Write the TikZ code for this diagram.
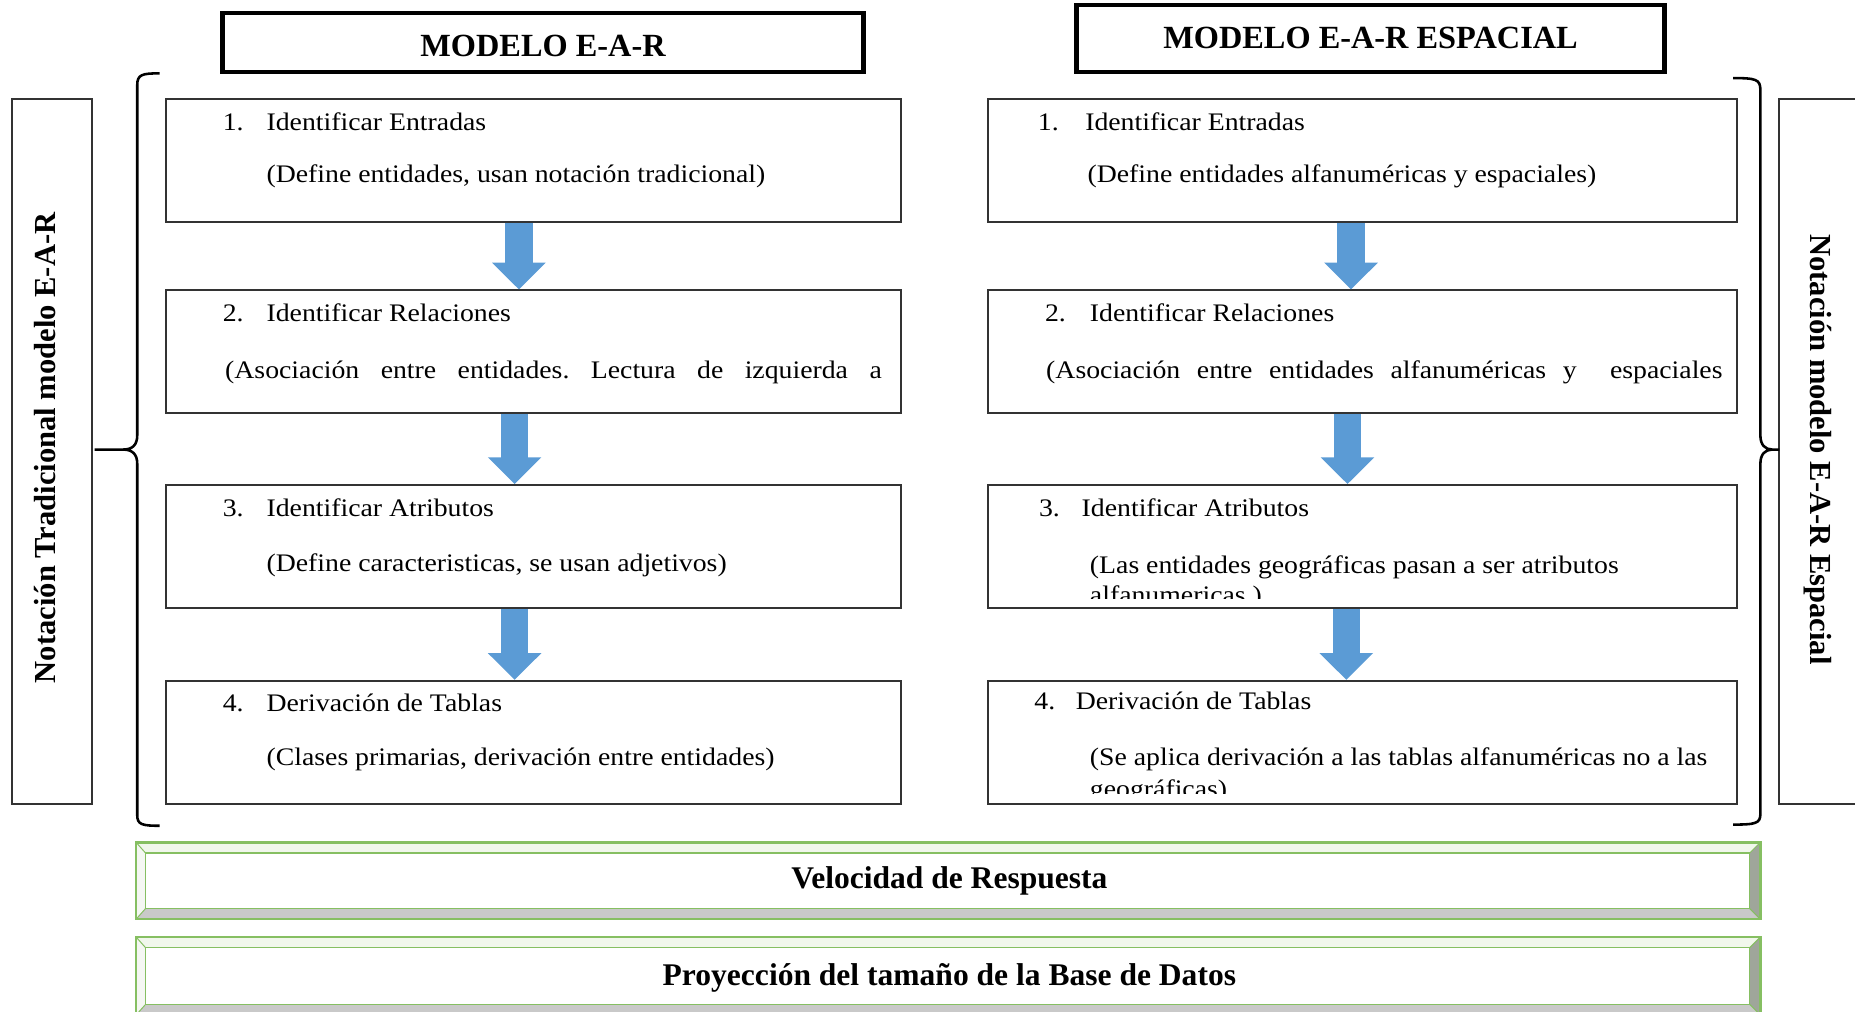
\documentclass[tikz,border=0pt]{standalone}
\usepackage{fontspec}
\setmainfont{Liberation Serif}
\newfontfamily\bodyfont{Liberation Serif}[FakeStretch=1.1]
\usetikzlibrary{arrows.meta,calc}
\definecolor{arrowblue}{HTML}{5B9BD5}
\definecolor{bargreen}{HTML}{86BF62}
\definecolor{bevtop}{HTML}{F1F7EC}
\definecolor{bevleft}{HTML}{F5F7F3}
\definecolor{bevright}{HTML}{9FA69A}
\definecolor{bevbot}{HTML}{C9C9C9}
\newcommand{\bevelbar}[4]{%
  \fill[white] (#1,#2) rectangle (#3,#4);
  \fill[bevtop] (#1,#2) -- (#3,#2) -- (#3-9,#2+9) -- (#1+8,#2+9) -- cycle;
  \fill[bevleft] (#1,#2) -- (#1+8,#2+9) -- (#1+8,#4-9) -- (#1,#4) -- cycle;
  \fill[bevright] (#3,#2) -- (#3,#4) -- (#3-9,#4-9) -- (#3-9,#2+9) -- cycle;
  \fill[bevbot] (#1,#4) -- (#3,#4) -- (#3-9,#4-9) -- (#1+8,#4-9) -- cycle;
  \draw[bargreen, line width=0.7pt] (#1+8,#2+9) rectangle (#3-9,#4-9);
  \draw[bargreen, line width=0.5pt] (#1,#2) -- (#1+8,#2+9) (#3,#2) -- (#3-9,#2+9)
       (#1,#4) -- (#1+8,#4-9) (#3,#4) -- (#3-9,#4-9);
  \draw[bargreen, line width=1.2pt] (#1,#2) rectangle (#3,#4);
}
\begin{document}
\begin{tikzpicture}[x=0.6pt,y=-0.6pt,
  stepboxL/.style={draw=black!80, line width=1pt, fill=white, minimum width=373.2pt, minimum height=62.4pt, inner sep=0pt},
  stepboxR/.style={stepboxL, minimum width=379.8pt},
  titlebox/.style={draw=black, line width=2.2pt, fill=white, inner sep=0pt},
  titletext/.style={anchor=base, inner sep=0pt, font=\bfseries\fontsize{16.4}{18}\selectfont},
  sidebox/.style={draw=black!80, line width=1pt, inner sep=0pt},
  sidetext/.style={inner sep=0pt, font=\bfseries\fontsize{15.5}{17}\selectfont},
  txt/.style={anchor=base west, inner sep=0pt, font=\bodyfont\fontsize{12.8}{15}\selectfont},
  flow/.style={draw=arrowblue, line width=14pt, -{Triangle[width=26.4pt,length=13.6pt]}},
  bracket/.style={draw=black, line width=1.3pt},
  bartext/.style={anchor=base, inner sep=0pt, font=\bfseries\fontsize{16}{18}\selectfont},
]
\useasboundingbox (0,0) rectangle (1568,855);
\clip (0,0) rectangle (1568,855);

% title boxes
\node[titlebox, minimum width=325.2pt, minimum height=30pt] (TL) at (459,36) {};
\node[titletext] (TLt) at (459,48) {MODELO E-A-R};
\node[titlebox, minimum width=298.2pt, minimum height=34.2pt] (TR) at (1158.5,32.5) {};
\node[titletext] (TRt) at (1158.5,41) {MODELO E-A-R ESPACIAL};

% side boxes
\node[sidebox, minimum width=40.8pt, minimum height=357.6pt] (VL) at (44,382) {};
\node[sidetext, rotate=90] (VLt) at (38,378.5) {Notación Tradicional modelo E-A-R};
\node[sidebox, minimum width=69.6pt, minimum height=357.6pt] (VR) at (1562,382) {};
\node[sidetext, rotate=-90] (VRt) at (1537,380) {Notación modelo E-A-R Espacial};

% braces
\draw[bracket] (135,62) .. controls (120,62) and (116,63) .. (116,72) -- (116,368)
  .. controls (116,376) and (112,380) .. (104,380) -- (80,380)
  (104,380) .. controls (112,380) and (116,384) .. (116,392) -- (116,689)
  .. controls (116,697) and (120,698) .. (135,698);
\draw[bracket] (1465,66) .. controls (1484,66) and (1488,67) .. (1488,76) -- (1488,368)
  .. controls (1488,376) and (1492,380) .. (1498,380) -- (1504,380)
  (1498,380) .. controls (1492,380) and (1488,384) .. (1488,392) -- (1488,688)
  .. controls (1488,696) and (1484,697) .. (1465,697);

% left step boxes
\node[stepboxL] (L1) at (451,136) {};
\node[stepboxL] (L2) at (451,297.5) {};
\node[stepboxL] (L3) at (451,462) {};
\node[stepboxL] (L4) at (451,627.5) {};
% right step boxes
\node[stepboxR] (R1) at (1151.5,136) {};
\node[stepboxR] (R2) at (1151.5,297.5) {};
\node[stepboxR] (R3) at (1151.5,462) {};
\node[stepboxR] (R4) at (1151.5,627.5) {};

% left texts
\node[txt] (l1a) at (188,110) {1.};
\node[txt] (l1b) at (225,110) {Identificar Entradas};
\node[txt] (l1c) at (225,154) {(Define entidades, usan notación tradicional)};
\node[txt] (l2a) at (188,272) {2.};
\node[txt] (l2b) at (225,272) {Identificar Relaciones};
\node[txt] (l2c) at (190,320) {\hbox to 333pt{(Asociación\hfill entre\hfill entidades.\hfill Lectura\hfill de\hfill izquierda\hfill a}};
\node[txt] (l3a) at (188,437) {3.};
\node[txt] (l3b) at (225,437) {Identificar Atributos};
\node[txt] (l3c) at (225,483) {(Define caracteristicas, se usan adjetivos)};
\node[txt] (l4a) at (188,601) {4.};
\node[txt] (l4b) at (225,601) {Derivación de Tablas};
\node[txt] (l4c) at (225,647) {(Clases primarias, derivación entre entidades)};

% right texts
\node[txt] (r1a) at (877,110) {1.};
\node[txt] (r1b) at (917,110) {Identificar Entradas};
\node[txt] (r1c) at (919,154) {(Define entidades alfanuméricas y espaciales)};
\node[txt] (r2a) at (883,272) {2.};
\node[txt] (r2b) at (921,272) {Identificar Relaciones};
\node[txt] (r2c) at (884,320) {\hbox to 343pt{(Asociación\hfill entre\hfill entidades\hfill alfanuméricas\hfill y\hfill\hfill espaciales}};
\node[txt] (r3a) at (878,437) {3.};
\node[txt] (r3b) at (914,437) {Identificar Atributos};
\node[txt] (r3c) at (921,484.5) {(Las entidades geográficas pasan a ser atributos};
\begin{scope}
  \clip (900,470) rectangle (1460,505.5);
  \node[txt] (r3d) at (921,510.5) {alfanumericas )};
\end{scope}
\node[txt] (r4a) at (874,600) {4.};
\node[txt] (r4b) at (909,600) {Derivación de Tablas};
\node[txt] (r4c) at (921,646.7) {(Se aplica derivación a las tablas alfanuméricas no a las};
\begin{scope}
  \clip (900,650) rectangle (1460,670.5);
  \node[txt] (r4d) at (921,674) {geográficas)};
\end{scope}

% arrows
\draw[flow] ($(L1.south)+(-12.4,0)$) -- ($(L2.north)+(-12.4,0)$);
\draw[flow] ($(L2.south)+(-16,0)$) -- ($(L3.north)+(-16,0)$);
\draw[flow] ($(L3.south)+(-16,0)$) -- ($(L4.north)+(-16,0)$);
\draw[flow] ($(R1.south)+(-9.5,0)$) -- ($(R2.north)+(-9.5,0)$);
\draw[flow] ($(R2.south)+(-12.5,0)$) -- ($(R3.north)+(-12.5,0)$);
\draw[flow] ($(R3.south)+(-13.5,0)$) -- ($(R4.north)+(-13.5,0)$);

% bottom bars
\bevelbar{115}{712}{1488}{777}
\node[bartext] (G1) at (802.5,751) {Velocidad de Respuesta};
\bevelbar{115}{792}{1488}{858}
\node[bartext] (G2) at (802.5,832.6) {Proyección del tamaño de la Base de Datos};
\end{tikzpicture}
\end{document}
